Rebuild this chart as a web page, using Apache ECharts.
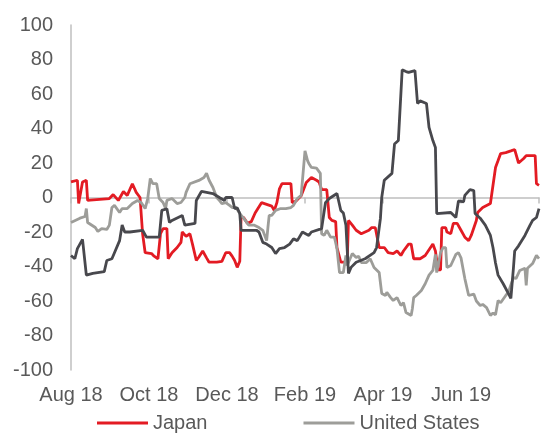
<!DOCTYPE html>
<html>
<head>
<meta charset="utf-8">
<script src="https://cdn.jsdelivr.net/npm/echarts@6/dist/echarts.min.js"></script>
<style>
  html, body { margin: 0; padding: 0; background: #fff; }
  #chart { width: 542px; height: 434px; }
</style>
</head>
<body>
<div id="chart"></div>
<script>
// x = days since 1 Aug 2018, ticks every 61 days (~2 months)
var xTickLabels = ['Aug 18', 'Oct 18', 'Dec 18', 'Feb 19', 'Apr 19', 'Jun 19', ''];

var japanDays = [0, 5, 6, 9, 12, 13, 15, 30, 33, 37, 41, 44, 48, 51, 54, 56, 58, 63, 65, 68, 70, 72, 75, 76, 79, 83, 86, 87, 90, 93, 95, 98, 100, 103, 106, 108, 114, 118, 121, 124, 126, 128, 130, 132, 133, 135, 138, 141, 144, 149, 153, 157, 159, 161, 163, 165, 172, 173, 176, 180, 184, 188, 192, 194, 196, 200, 202, 204, 207, 208, 211, 216, 217, 220, 223, 227, 233, 235, 238, 241, 245, 248, 252, 255, 258, 260, 264, 266, 268, 273, 277, 283, 285, 287, 289, 290, 293, 294, 297, 299, 302, 305, 308, 311, 313, 317, 318, 322, 328, 329, 332, 334, 336, 340, 344, 347, 350, 354, 356, 363, 364, 366];
var japanValues = [9, 10, -3.5, 9, 10, -1.7, -1.5, -0.6, 1.7, -1.7, 3.5, 1.2, 8, 3, 0, -21, -32, -32.5, -34, -35.5, -21, -18, -18, -35.5, -32, -29, -26, -20, -22.5, -21, -27, -36.5, -34.5, -31, -35, -37.5, -37.5, -37, -32, -32, -34, -36.5, -40.5, -37, -11.6, -11.6, -15, -14, -9, -3, -4, -5, -7.5, -3, 5, 8, 8, -3, -2, 1, 8.7, 11.6, 10, 9, 4.6, 4.6, -11.6, -13.3, -14, -29, -37.5, -37.5, -13.3, -16, -19, -21, -19, -17.5, -17.5, -29, -29, -32, -32.5, -31, -33.6, -31, -27, -27, -35.5, -35.5, -33.6, -27, -31, -42, -42, -17.5, -17.5, -20, -21, -15, -15, -19, -23, -25, -22, -13.3, -8.7, -5.8, -3.5, -2.9, 17.4, 21.4, 25.5, 26, 27, 27.8, 20, 22.6, 24.3, 24.3, 8, 7];

var usDays = [0, 7, 11, 12, 13, 19, 21, 24, 28, 30, 32, 34, 38, 40, 44, 48, 52, 55, 58, 60, 62, 64, 67, 69, 72, 74, 75, 79, 81, 83, 86, 89, 90, 93, 94, 100, 104, 106, 108, 111, 114, 116, 118, 121, 124, 126, 129, 132, 135, 139, 143, 147, 150, 153, 154, 155, 157, 160, 164, 168, 172, 174, 177, 180, 181, 183, 185, 186, 188, 192, 195, 196, 198, 200, 203, 206, 208, 210, 213, 215, 216, 220, 223, 225, 227, 231, 234, 237, 241, 243, 246, 247, 250, 252, 255, 258, 260, 262, 266, 267, 268, 270, 274, 277, 280, 283, 285, 286, 289, 291, 293, 294, 297, 301, 303, 305, 308, 311, 315, 317, 320, 322, 325, 328, 330, 332, 334, 336, 340, 342, 346, 348, 351, 355, 356, 357, 361, 364, 366];
var usValues = [-14.5, -12, -11, -6.4, -14.5, -17.4, -19.7, -18, -18.5, -16, -5.8, -4.6, -8.7, -6.4, -6.4, -3.5, -1.7, -3, -6.4, -0.6, 11, 8, 8, -0.6, -2.9, -6.4, -1.7, -0.6, -2, -3.5, -2.9, 0, 3, 8, 8.7, 9.9, 11.6, 14, 10, 5.8, 0, -1.7, -3.5, -3, -4.6, -5.8, -5.8, -9.3, -12, -16, -16, -17.4, -19, -25, -17.4, -10.4, -10.4, -7.5, -6.4, -6.4, -5.8, -4.6, -0.6, 1.2, 2.3, 27, 21.4, 19.7, 17.4, 17, 14, -21, -22, -19, -23, -23, -29.6, -43.5, -43.5, -33.6, -39.4, -32.5, -34.8, -34, -37.7, -37.7, -35.5, -40.6, -43.5, -55.6, -56.8, -55, -58, -59.7, -58, -62.6, -61, -66.7, -68.4, -64.3, -58, -56.8, -53.9, -50, -45, -42.3, -33, -43.5, -32, -29, -29, -40.6, -39.4, -33, -32, -35, -47, -56.8, -56, -60, -62.6, -62, -63.8, -68.4, -67, -68, -59.7, -61, -56.8, -55, -46.4, -47, -42.3, -41, -51, -41, -38.3, -33.6, -35.4];

var euroDays = [0, 3, 5, 9, 12, 17, 26, 28, 32, 34, 38, 40, 42, 46, 56, 59, 69, 71, 75, 77, 79, 87, 89, 97, 98, 102, 111, 116, 120, 121, 126, 128, 130, 132, 133, 145, 147, 150, 153, 157, 160, 163, 167, 171, 174, 177, 181, 186, 188, 196, 199, 202, 208, 211, 213, 215, 216, 217, 219, 223, 230, 237, 239, 242, 243, 245, 251, 253, 256, 259, 262, 264, 269, 271, 273, 278, 280, 283, 285, 286, 297, 301, 303, 307, 308, 312, 315, 316, 320, 324, 328, 330, 332, 334, 338, 342, 344, 346, 347, 350, 355, 359, 361, 364, 366];
var euroValues = [-33.6, -35.5, -29.6, -24.3, -45, -44, -43, -36.5, -35.5, -32, -25, -16, -20, -20, -19, -23, -23, -7.5, -6.5, -14.5, -13.3, -10.4, -16, -15, -1.7, 3.5, 2.3, 0, -1.7, 0, 0, -6.4, -6, -9.3, -19, -19, -20, -26, -27, -29, -32.5, -29.6, -29, -27, -24, -25, -20, -22, -20, -18, -3, -0.6, 2.3, -7.5, -9, -16, -16, -44, -40.5, -37.5, -35.5, -32, -29, -12, 0, 10, 14, 31, 33, 74, 73, 72.5, 73.6, 54.5, 56, 54.5, 40.6, 33, 29, -9.3, -8.7, -11.6, -2, -2.5, 1.2, 4.6, 4, -9.3, -12, -16, -22, -29, -38, -45, -50, -55.6, -58.5, -41, -31, -28, -22, -16, -13.3, -11.6, -6.4];

function pairs(xs, ys) {
    return xs.map(function (x, i) { return [x, ys[i]]; });
}

var chart = echarts.init(document.getElementById('chart'));

var textColor = '#595959';
var axisColor = '#bfbfbf';
var font = 'Liberation Sans, Arial, sans-serif';

var option = {
    animation: false,
    grid: { left: 71, right: 1, top: 25, bottom: 64, containLabel: false },
    legend: {
        data: ['Japan', 'United States'],
        left: 92,
        top: 407,
        icon: 'rect',
        itemWidth: 51,
        itemHeight: 3,
        itemGap: 96,
        textStyle: { color: textColor, fontSize: 20, fontFamily: font, lineHeight: 22 }
    },
    xAxis: [
        {
            type: 'value',
            min: 0,
            max: 366,
            interval: 61,
            position: 'bottom',
            axisLine: { show: false, onZero: false },
            axisTick: { show: false },
            splitLine: { show: false },
            axisLabel: {
                color: textColor,
                fontSize: 20,
                fontFamily: font,
                margin: 15,
                formatter: function (v) { return xTickLabels[Math.round(v / 61)] || ''; }
            }
        },
        {
            type: 'value',
            min: 0,
            max: 366,
            interval: 61,
            position: 'top',
            axisLine: { show: true, onZero: true, lineStyle: { color: axisColor, width: 1.5 } },
            axisTick: { show: true, inside: true, length: 6, lineStyle: { color: axisColor, width: 1.5 } },
            splitLine: { show: false },
            axisLabel: { show: false }
        }
    ],
    yAxis: {
        type: 'value',
        min: -100,
        max: 100,
        interval: 20,
        axisLine: { show: true, onZero: false, lineStyle: { color: axisColor, width: 1.5 } },
        axisTick: { show: false },
        splitLine: { show: false },
        axisLabel: { color: textColor, fontSize: 20, fontFamily: font, margin: 18 }
    },
    series: [
        {
            name: 'Japan',
            type: 'line',
            symbol: 'none',
            color: '#e31b23',
            lineStyle: { width: 2.8, color: '#e31b23' },
            data: pairs(japanDays, japanValues)
        },
        {
            name: 'United States',
            type: 'line',
            symbol: 'none',
            color: '#9d9d99',
            lineStyle: { width: 2.8, color: '#9d9d99' },
            data: pairs(usDays, usValues)
        },
        {
            name: 'Euro area',
            type: 'line',
            symbol: 'none',
            color: '#48484d',
            lineStyle: { width: 2.8, color: '#48484d' },
            data: pairs(euroDays, euroValues)
        }
    ]
};

chart.setOption(option);
</script>
</body>
</html>
